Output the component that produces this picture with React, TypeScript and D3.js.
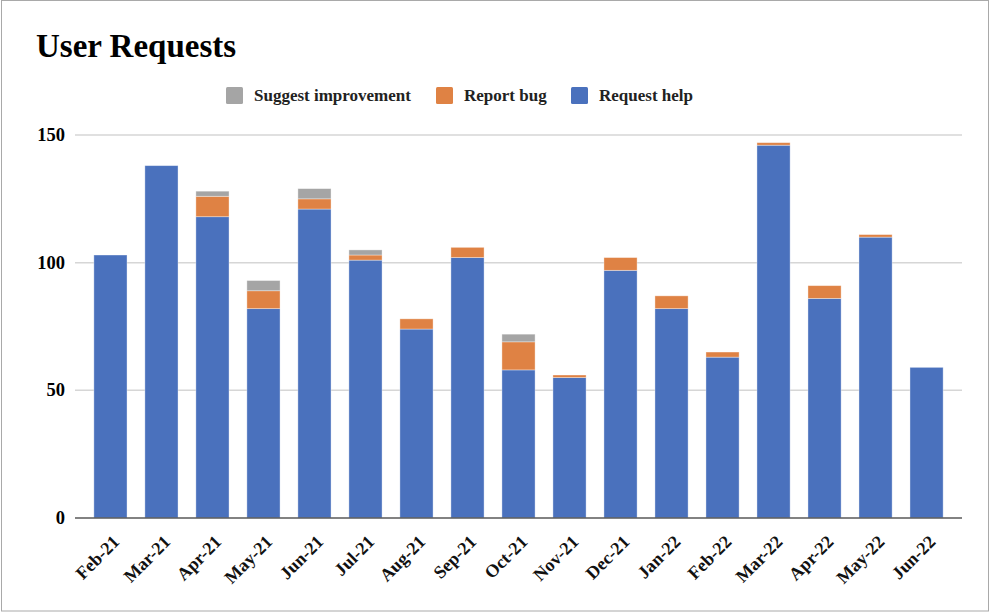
import React from "react";
import * as d3 from "d3";

const months = ["Feb-21","Mar-21","Apr-21","May-21","Jun-21","Jul-21","Aug-21","Sep-21","Oct-21","Nov-21","Dec-21","Jan-22","Feb-22","Mar-22","Apr-22","May-22","Jun-22"];
const requestHelp = [103,138,118,82,121,101,74,102,58,55,97,82,63,146,86,110,59];
const reportBug = [0,0,8,7,4,2,4,4,11,1,5,5,2,1,5,1,0];
const suggestImprovement = [0,0,2,4,4,2,0,0,3,0,0,0,0,0,0,0,0];
const yTicks = [0, 50, 100, 150];

const seriesKeys = ["help", "bug", "suggest"];
const colors: Record<string, string> = { help: "#4a71bd", bug: "#df8244", suggest: "#a5a5a5" };
const legendItems = [
  { key: "suggest", label: "Suggest improvement" },
  { key: "bug", label: "Report bug" },
  { key: "help", label: "Request help" },
];

const FONT = "'Liberation Serif', 'Times New Roman', serif";

export default function App() {
  const W = 992, H = 614;
  const x = d3.scaleBand<string>().domain(months).range([75, 962]).paddingInner(0.35).paddingOuter(0.37);
  const y = d3.scaleLinear().domain([0, 150]).range([518, 135]);

  const table = months.map((m, i) => ({ month: m, help: requestHelp[i], bug: reportBug[i], suggest: suggestImprovement[i] }));
  const stack = d3.stack<any>().keys(seriesKeys);
  const layers = stack(table);

  const legendX: Record<string, number> = { suggest: 226, bug: 436, help: 571 };

  return (
    <svg width={W} height={H} style={{ position: "absolute", left: 0, top: 0, fontFamily: FONT }}>
      <rect x={0} y={0} width={W} height={H} fill="#fff" />
      <rect x={1.5} y={0.5} width={987} height={610.5} fill="none" stroke="#a9a9a9" strokeWidth={1} />
      <text x={36} y={57} fontSize={33} fontWeight="bold" fill="#000">User Requests</text>

      {legendItems.map((it) => (
        <g key={it.key}>
          <rect x={legendX[it.key]} y={87} width={17} height={17} rx={1.5} fill={colors[it.key]} />
          <text x={legendX[it.key] + 28} y={101} fontSize={17} fontWeight="bold" fill="#222">{it.label}</text>
        </g>
      ))}

      {yTicks.map((t) => (
        <g key={t}>
          {t !== 0 && <line x1={75} x2={962} y1={y(t)} y2={y(t)} stroke="#d6d6d6" strokeWidth={1.5} />}
          <text x={65} y={y(t) + 6} fontSize={18.5} fontWeight="bold" textAnchor="end" fill="#000">{t}</text>
        </g>
      ))}

      {layers.map((layer) => (
        <g key={layer.key} fill={colors[layer.key]}>
          {layer.map((d, i) => {
            const h = y(d[0]) - y(d[1]);
            if (h <= 0) return null;
            return (
              <rect key={i} x={x(months[i])!} y={y(d[1])} width={x.bandwidth()} height={h}
                stroke="#ffffff" strokeOpacity={0.45} strokeWidth={0.8} />
            );
          })}
        </g>
      ))}

      <line x1={75} x2={962} y1={y(0)} y2={y(0)} stroke="#595959" strokeWidth={1.5} />

      {months.map((m) => {
        const cx = x(m)! + x.bandwidth() / 2;
        return (
          <text key={m} transform={`translate(${cx + 10},${543}) rotate(-45)`} textAnchor="end"
            fontSize={18} fontWeight="bold" fill="#111">{m}</text>
        );
      })}
    </svg>
  );
}
